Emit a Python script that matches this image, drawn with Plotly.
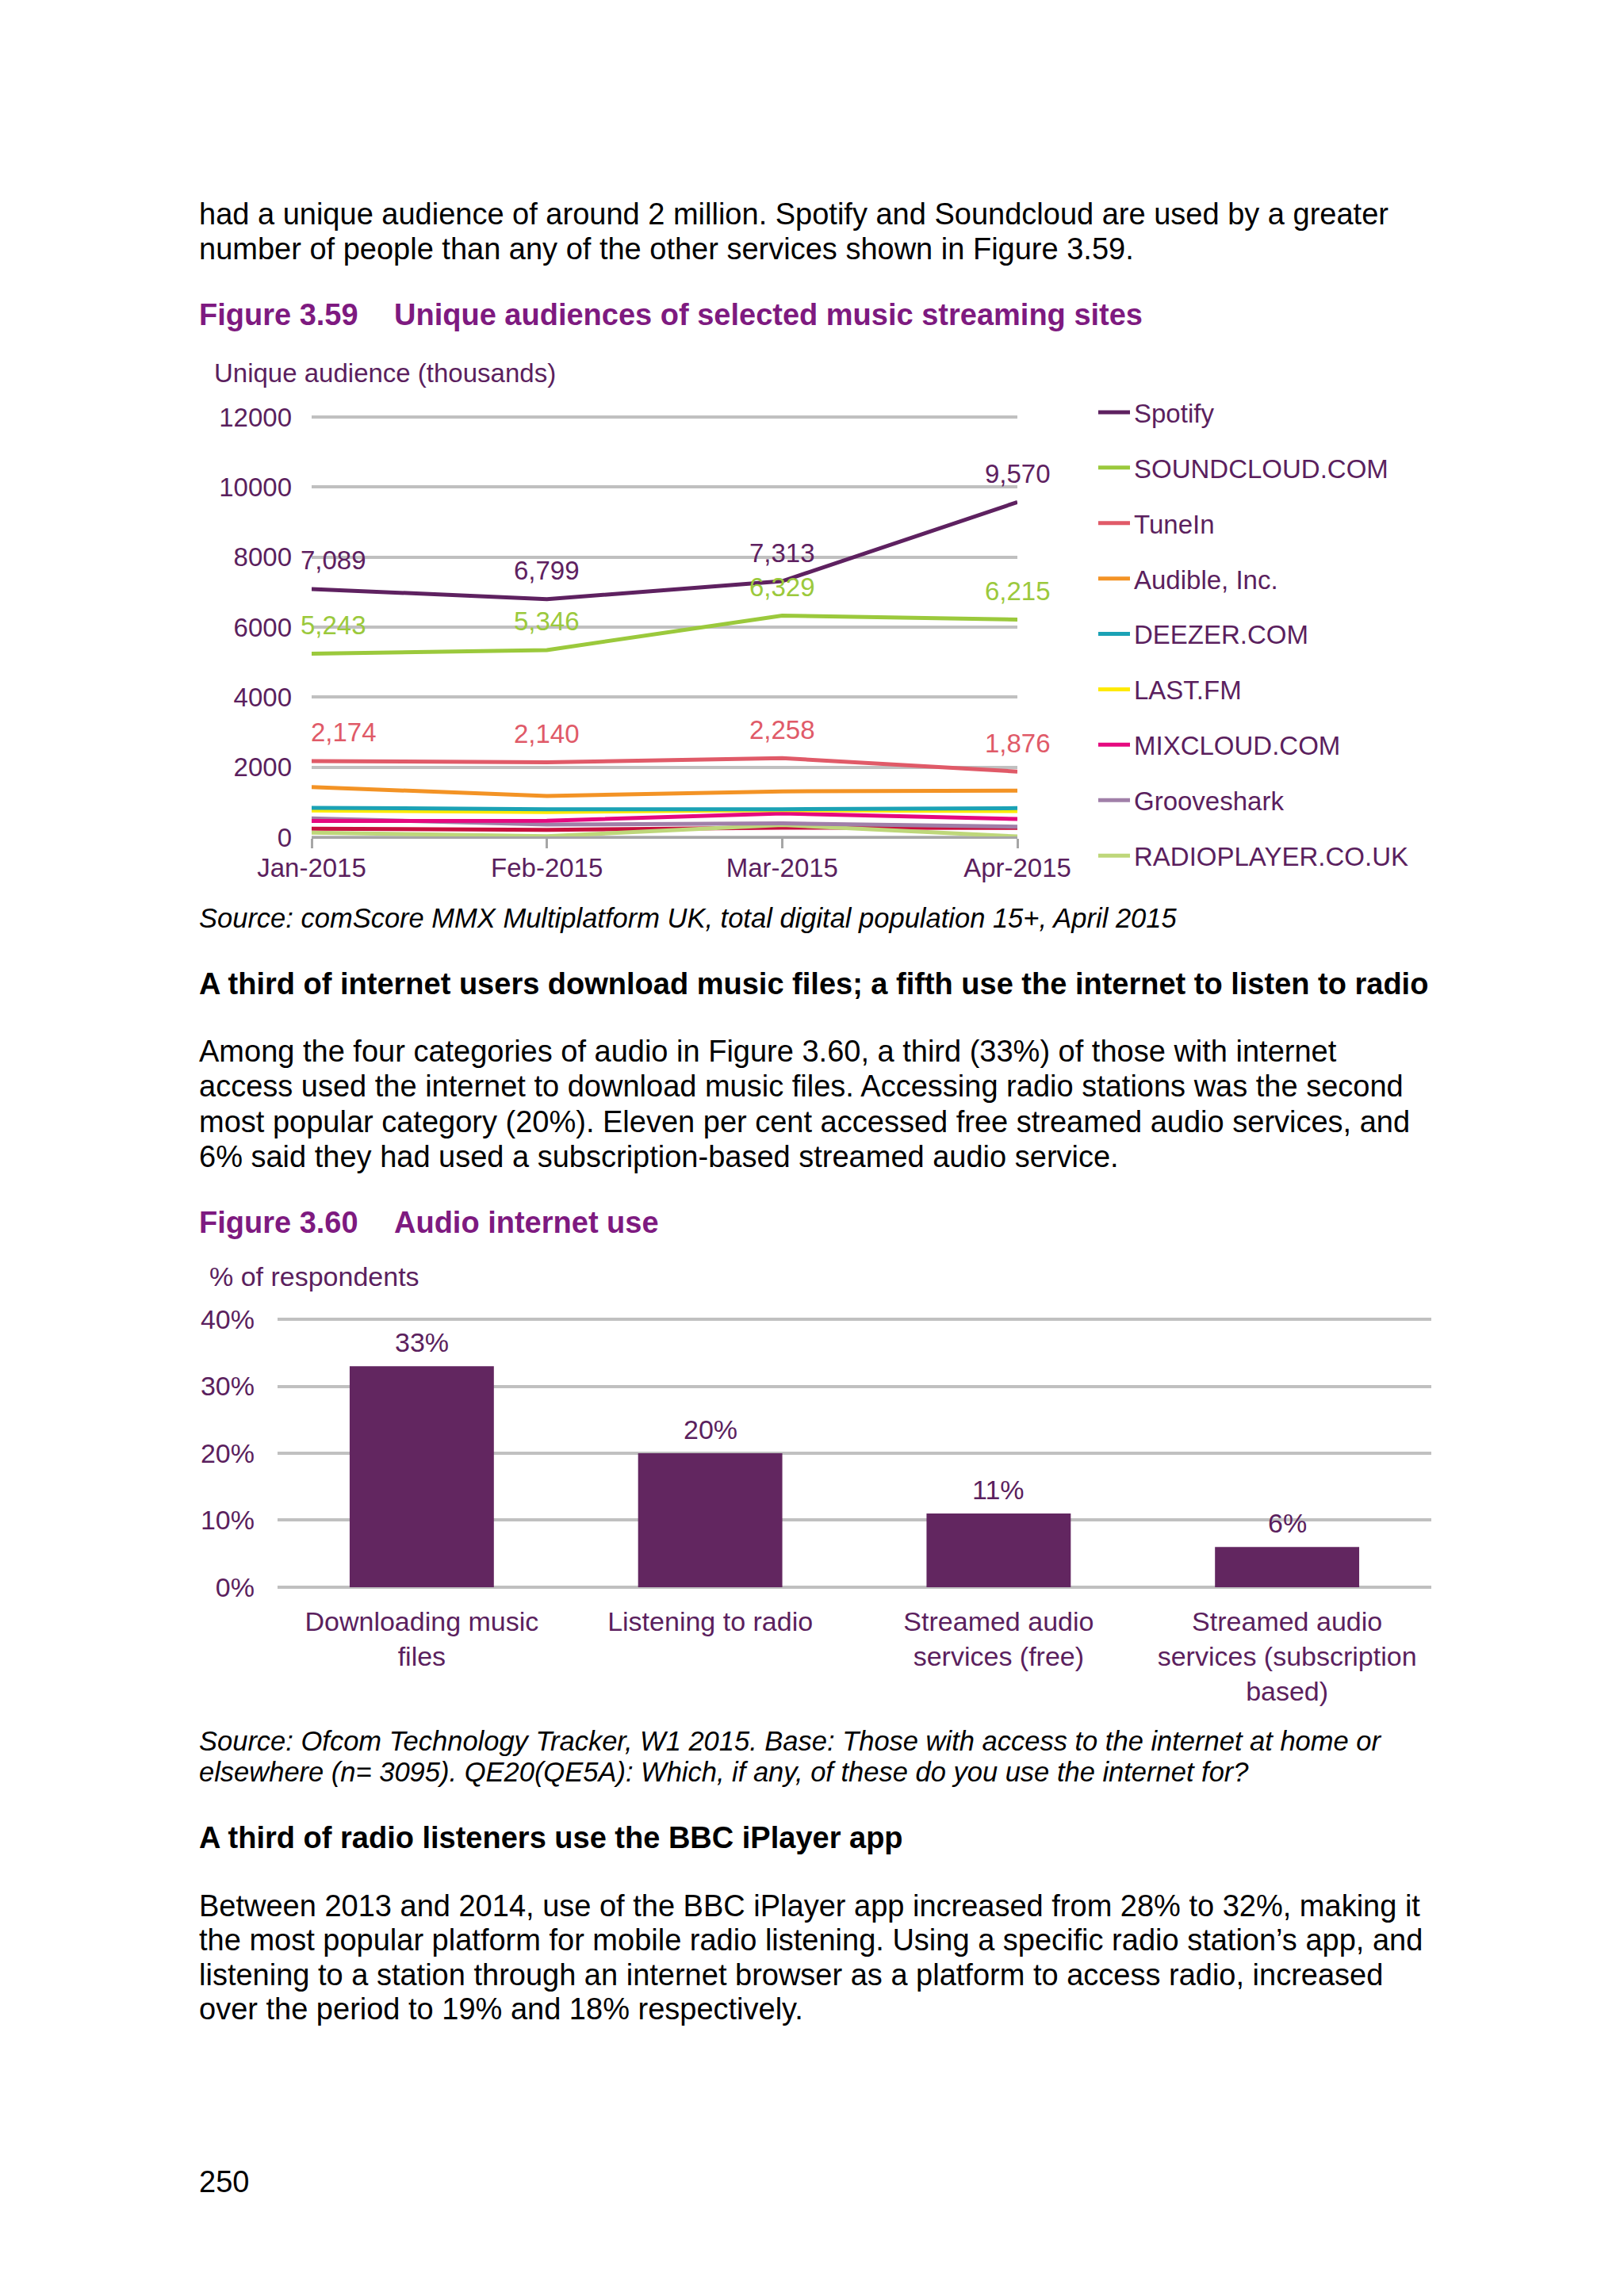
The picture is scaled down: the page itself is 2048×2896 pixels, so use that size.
import plotly.graph_objects as go

# ---------------- data ----------------
months = ["Jan-2015", "Feb-2015", "Mar-2015", "Apr-2015"]
spotify = [7089, 6799, 7313, 9570]
soundcloud = [5243, 5346, 6329, 6215]
tunein = [2174, 2140, 2258, 1876]
audible = [1430, 1180, 1310, 1330]
deezer = [840, 800, 800, 830]
lastfm = [765, 720, 775, 745]
mixcloud = [465, 470, 680, 520]
grooveshark = [540, 360, 395, 300]
radioplayer = [130, 30, 350, 20]
unlabelled = [245, 210, 270, 264]

y_ticks_1 = [0, 2000, 4000, 6000, 8000, 10000, 12000]

bar_categories = ["Downloading music<br>files", "Listening to radio",
                  "Streamed audio<br>services (free)",
                  "Streamed audio<br>services (subscription<br>based)"]
bar_values = [33, 20, 11, 6]
y_ticks_2 = [0, 10, 20, 30, 40]

# ---------------- style ----------------
W, H = 2048, 2896
OFF = 8                      # page body margin of the html page
FONT = "Liberation Sans, Arial, sans-serif"
PURPLE_TXT = "#5B1F5E"
TITLE_PURPLE = "#7E1A80"
GRID = "#C0C0C0"
CF1 = 33      # chart 1 font size
CF2 = 34      # chart 2 font size
BODY = 38


def px(x):
    return (x - OFF) / W


def py(y):
    return 1 - (y - OFF) / H


fig = go.Figure()

series = [
    ("Spotify", spotify, "#5E2160", True),
    ("SOUNDCLOUD.COM", soundcloud, "#9BC93C", True),
    ("TuneIn", tunein, "#E05A68", True),
    ("Audible, Inc.", audible, "#F39325", True),
    ("DEEZER.COM", deezer, "#1BA2B5", True),
    ("LAST.FM", lastfm, "#FFEA00", True),
    ("MIXCLOUD.COM", mixcloud, "#E5097F", True),
    ("Grooveshark", grooveshark, "#A07FA8", True),
    ("RADIOPLAYER.CO.UK", radioplayer, "#BED77A", True),
    ("Other", unlabelled, "#C8103E", False),
]
names = [s[0] for s in series]

for name, vals, col, show in reversed(series):
    fig.add_trace(go.Scatter(
        x=months, y=vals, mode="lines", name=name,
        line=dict(color=col, width=5), showlegend=show,
        legendgroup=name, legendrank=names.index(name) + 1,
        xaxis="x", yaxis="y", hoverinfo="skip"))

fig.add_trace(go.Bar(
    x=bar_categories, y=bar_values, marker=dict(color="#622660", line=dict(width=0)),
    xaxis="x2", yaxis="y2", showlegend=False, hoverinfo="skip"))

annotations = []

# data labels, line chart
label_series = [(spotify, "#5E2160", [27, 0, 0, 0]),
                (soundcloud, "#9BC93C", [27, 0, 0, 0]),
                (tunein, "#E05A68", [40, 0, 0, 0])]
for vals, col, xs in label_series:
    for i, v in enumerate(vals):
        annotations.append(dict(
            x=months[i], y=v, xref="x", yref="y", text=f"{v:,}",
            showarrow=False, yshift=36, xshift=xs[i],
            font=dict(family=FONT, size=CF1, color=col)))

# data labels, bar chart
for c, v in zip(bar_categories, bar_values):
    annotations.append(dict(
        x=c, y=v, xref="x2", yref="y2", text=f"{v}%", showarrow=False,
        yshift=30, font=dict(family=FONT, size=CF2, color=PURPLE_TXT)))


def text(x, y, s, size=BODY, color="#000000", bold=False, italic=False):
    if bold:
        s = f"<b>{s}</b>"
    if italic:
        s = f"<i>{s}</i>"
    annotations.append(dict(
        x=px(x), y=py(y), xref="paper", yref="paper", text=s,
        showarrow=False, xanchor="left", yanchor="middle",
        font=dict(family=FONT, size=size, color=color)))


L = 249
SRC = 34.5
text(L, 270, "had a unique audience of around 2 million. Spotify and Soundcloud are used by a greater")
text(L, 314, "number of people than any of the other services shown in Figure 3.59.")
text(L, 397, "Figure 3.59", color=TITLE_PURPLE, bold=True)
text(495, 397, "Unique audiences of selected music streaming sites", color=TITLE_PURPLE, bold=True)
text(268, 471, "Unique audience (thousands)", size=CF1, color=PURPLE_TXT)
text(L, 1158, "Source: comScore MMX Multiplatform UK, total digital population 15+, April 2015", size=SRC, italic=True)
text(L, 1241, "A third of internet users download music files; a fifth use the internet to listen to radio", bold=True)
text(L, 1326, "Among the four categories of audio in Figure 3.60, a third (33%) of those with internet")
text(L, 1370, "access used the internet to download music files. Accessing radio stations was the second")
text(L, 1415, "most popular category (20%). Eleven per cent accessed free streamed audio services, and")
text(L, 1459, "6% said they had used a subscription-based streamed audio service.")
text(L, 1542, "Figure 3.60", color=TITLE_PURPLE, bold=True)
text(495, 1542, "Audio internet use", color=TITLE_PURPLE, bold=True)
text(262, 1610, "% of respondents", size=CF2, color=PURPLE_TXT)
text(L, 2196, "Source: Ofcom Technology Tracker, W1 2015. Base: Those with access to the internet at home or", size=SRC, italic=True)
text(L, 2235, "elsewhere (n= 3095). QE20(QE5A): Which, if any, of these do you use the internet for?", size=SRC, italic=True)
text(L, 2318, "A third of radio listeners use the BBC iPlayer app", bold=True)
text(L, 2404, "Between 2013 and 2014, use of the BBC iPlayer app increased from 28% to 32%, making it")
text(L, 2447, "the most popular platform for mobile radio listening. Using a specific radio station\u2019s app, and")
text(L, 2491, "listening to a station through an internet browser as a platform to access radio, increased")
text(L, 2534, "over the period to 19% and 18% respectively.")
text(L, 2752, "250")

# axis geometry (pixels): chart 1 value 0 at y=1056, 12000 at y=526
k1 = (1056 - 526) / 12000.0
pad1 = 100
k2 = (2002 - 1664) / 40.0
pad2 = 0.5

fig.update_layout(
    template="none",
    width=W, height=H,
    margin=dict(l=0, r=0, t=0, b=0, pad=0, autoexpand=False),
    paper_bgcolor="white", plot_bgcolor="rgba(0,0,0,0)",
    font=dict(family=FONT, size=CF1, color=PURPLE_TXT),
    bargap=0.5,
    showlegend=True,
    legend=dict(x=px(1380), y=py(492), xanchor="left", yanchor="top",
                font=dict(family=FONT, size=CF1, color=PURPLE_TXT),
                tracegroupgap=24, itemwidth=40, bgcolor="rgba(0,0,0,0)",
                borderwidth=0, traceorder="grouped"),
    xaxis=dict(domain=[px(393), px(1283)], type="category", range=[0, 3],
               automargin=False, anchor="free", position=py(1056),
               showgrid=False, showline=True, linecolor="#A6A6A6", linewidth=3,
               ticks="outside", ticklen=12, tickwidth=3, tickcolor="#A6A6A6",
               tickfont=dict(size=CF1, color=PURPLE_TXT), ticklabelstandoff=-4,
               zeroline=False, fixedrange=True),
    yaxis=dict(domain=[py(1056 + pad1 * k1), py(526 - pad1 * k1)],
               range=[-pad1, 12000 + pad1], anchor="x",
               automargin=False,
               tickvals=y_ticks_1, ticktext=[str(t) for t in y_ticks_1],
               showgrid=True, gridcolor=GRID, gridwidth=4, zeroline=False,
               showline=False, ticks="", ticklabelstandoff=24,
               tickfont=dict(size=CF1, color=PURPLE_TXT)),
    xaxis2=dict(domain=[px(350), px(1805)], type="category",
                anchor="free", position=py(2002),
                automargin=False,
                showgrid=False, showline=False, ticks="", zeroline=False,
                tickfont=dict(size=CF2, color=PURPLE_TXT), ticklabelstandoff=20),
    yaxis2=dict(domain=[py(2002 + pad2 * k2), py(1664 - pad2 * k2)],
                range=[-pad2, 40 + pad2], anchor="x2",
                automargin=False,
                tickvals=y_ticks_2, ticktext=[f"{t}%" for t in y_ticks_2],
                showgrid=True, gridcolor=GRID, gridwidth=4, zeroline=False,
                showline=False, ticks="", ticklabelstandoff=28,
                tickfont=dict(size=CF2, color=PURPLE_TXT)),
    annotations=annotations,
)

fig.write_html("out.html")
